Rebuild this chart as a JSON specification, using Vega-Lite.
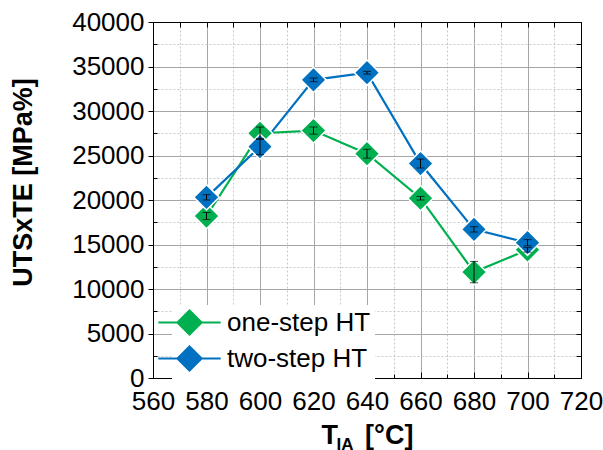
{
  "$schema": "https://vega.github.io/schema/vega-lite/v6.json",
  "width": 428,
  "height": 356,
  "autosize": "none",
  "padding": {"left": 153, "top": 22, "right": 22, "bottom": 72},
  "background": "white",
  "config": {
    "font": "Liberation Sans",
    "view": {"stroke": "black", "strokeWidth": 1}
  },
  "title": {"text": "IA", "orient": "bottom", "fontSize": 17, "fontWeight": "bold", "color": "black", "dx": -22, "offset": -11, "font": "Liberation Sans"},
  "data": {
    "values": [
      {"T": 580, "v": 18200, "e": 400, "s": "one-step HT"},
      {"T": 600, "v": 27500, "e": 700, "s": "one-step HT"},
      {"T": 620, "v": 27800, "e": 400, "s": "one-step HT"},
      {"T": 640, "v": 25200, "e": 500, "s": "one-step HT"},
      {"T": 660, "v": 20200, "e": 200, "s": "one-step HT"},
      {"T": 680, "v": 11900, "e": 1200, "s": "one-step HT"},
      {"T": 700, "v": 14400, "e": 250, "s": "one-step HT"},
      {"T": 580, "v": 20300, "e": 300, "s": "two-step HT"},
      {"T": 600, "v": 26000, "e": 900, "s": "two-step HT"},
      {"T": 620, "v": 33500, "e": 200, "s": "two-step HT"},
      {"T": 640, "v": 34300, "e": 150, "s": "two-step HT"},
      {"T": 660, "v": 24100, "e": 500, "s": "two-step HT"},
      {"T": 680, "v": 16700, "e": 300, "s": "two-step HT"},
      {"T": 700, "v": 15200, "e": 350, "s": "two-step HT"}
    ]
  },
  "resolve": {"axis": {"x": "independent", "y": "independent"}},
  "layer": [
    {
      "mark": {"type": "line", "strokeWidth": 2.2},
      "encoding": {
        "x": {"field": "T", "type": "quantitative", "scale": {"domain": [560, 720], "nice": false, "zero": false},
          "axis": {"orient": "bottom", "title": null, "values": [570, 590, 610, 630, 650, 670, 690, 710], "labels": false, "domain": false, "ticks": true, "tickSize": -4, "tickColor": "black", "grid": true, "gridColor": "#c8c8c8", "gridDash": [2, 2], "gridWidth": 1}},
        "y": {"field": "v", "type": "quantitative", "scale": {"domain": [0, 40000], "nice": false},
          "axis": {"orient": "left", "title": null, "values": [2500, 7500, 12500, 17500, 22500, 27500, 32500, 37500], "labels": false, "domain": false, "ticks": true, "tickSize": -4, "tickColor": "black", "grid": true, "gridColor": "#c8c8c8", "gridDash": [2, 2], "gridWidth": 1}},
        "color": {"field": "s", "type": "nominal",
          "scale": {"domain": ["one-step HT", "two-step HT"], "range": ["#00B050", "#0070C0"]},
          "legend": {"title": null, "orient": "none", "legendX": 19, "legendY": 283, "padding": 4, "fillColor": "white",
            "symbolType": "M-2.6,0L2.6,0M-1,0L0,-1L1,0L0,1Z", "symbolSize": 576, "symbolStrokeWidth": 2.2,
            "labelFontSize": 26, "labelColor": "black", "labelOffset": 24, "rowPadding": 3,
            "encode": {"symbols": {"update": {"fill": {"scale": "color", "field": "value"}, "stroke": {"scale": "color", "field": "value"}, "opacity": {"value": 1}}}}}}
      }
    },
    {
      "mark": {"type": "point", "shape": "diamond", "filled": true, "size": 640, "opacity": 1, "stroke": "white", "strokeWidth": 1.5},
      "encoding": {
        "x": {"field": "T", "type": "quantitative",
          "axis": {"orient": "bottom", "title": "T\u2003[°C]", "titleFontSize": 27, "titleFontWeight": "bold", "titleColor": "black", "titlePadding": 8,
            "values": [560, 580, 600, 620, 640, 660, 680, 700, 720], "labelFontSize": 26, "labelColor": "black", "labelPadding": 16, "labelFlush": false,
            "domain": true, "domainColor": "black", "ticks": true, "tickSize": -6, "tickColor": "black", "grid": true, "gridColor": "#a6a6a6", "gridWidth": 1}},
        "y": {"field": "v", "type": "quantitative",
          "axis": {"orient": "left", "title": "UTSxTE [MPa%]", "titleFontSize": 27, "titleFontWeight": "bold", "titleColor": "black", "titlePadding": 34, "titleY": 160,
            "values": [0, 5000, 10000, 15000, 20000, 25000, 30000, 35000, 40000], "format": "d", "labelFontSize": 26, "labelColor": "black", "labelPadding": 4, "labelFlush": false,
            "domain": true, "domainColor": "black", "ticks": true, "tickSize": 5, "tickColor": "black", "grid": true, "gridColor": "#a6a6a6", "gridWidth": 1}},
        "color": {"field": "s", "type": "nominal",
          "legend": {"title": null, "orient": "none", "legendX": 19, "legendY": 283, "padding": 4, "fillColor": "white",
            "symbolType": "M-2.6,0L2.6,0M-1,0L0,-1L1,0L0,1Z", "symbolSize": 576, "symbolStrokeWidth": 2.2,
            "labelFontSize": 26, "labelColor": "black", "labelOffset": 24, "rowPadding": 3,
            "encode": {"symbols": {"update": {"fill": {"scale": "color", "field": "value"}, "stroke": {"scale": "color", "field": "value"}, "opacity": {"value": 1}}}}}}
      }
    },
    {
      "mark": {"type": "errorbar", "color": "black", "thickness": 1, "ticks": {"size": 8, "color": "black", "strokeWidth": 1}},
      "encoding": {
        "x": {"field": "T", "type": "quantitative",
          "axis": {"orient": "top", "title": null, "values": [560, 570, 580, 590, 600, 610, 620, 630, 640, 650, 660, 670, 680, 690, 700, 710, 720], "labels": false, "domain": true, "domainColor": "black", "ticks": true, "tickSize": -5, "tickColor": "black", "grid": false}},
        "y": {"field": "v", "type": "quantitative",
          "axis": {"orient": "right", "title": null, "values": [0, 2500, 5000, 7500, 10000, 12500, 15000, 17500, 20000, 22500, 25000, 27500, 30000, 32500, 35000, 37500, 40000], "labels": false, "domain": true, "domainColor": "black", "ticks": true, "tickSize": -5, "tickColor": "black", "grid": false}},
        "yError": {"field": "e"}
      }
    }
  ]
}
